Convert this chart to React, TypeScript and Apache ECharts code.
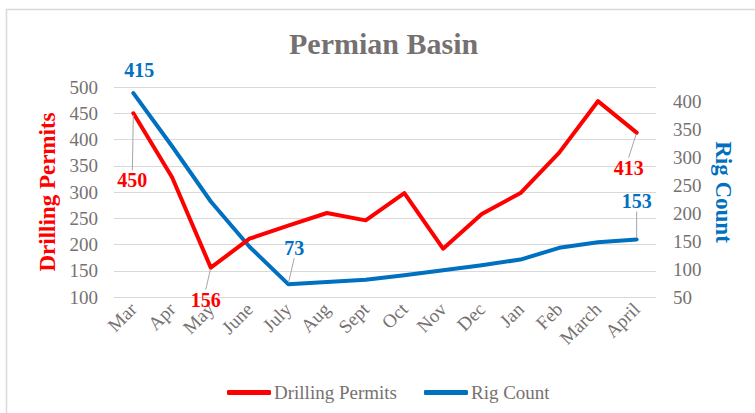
import React, { useEffect, useRef } from "react";
import * as echarts from "echarts";

const categories = ["Mar", "Apr", "May", "June", "July", "Aug", "Sept", "Oct", "Nov", "Dec", "Jan", "Feb", "March", "April"];
const drillingPermits = [450, 328, 156, 211, 236, 260, 246, 298, 192, 258, 298, 375, 473, 413];
const rigCount = [415, 320, 221, 140, 73, 77, 81, 89, 98, 107, 117, 138, 148, 153];
const leftTicks = { min: 100, max: 500, interval: 50 };
const rightTicks = { min: 50, max: 426, interval: 50 };

// label offsets (layout only) keyed by data index: [dx, dy, showLeader]
const permitLabelLayout: Record<number, [number, number, boolean]> = {
  0: [-1, 67, true],
  2: [-5, 32, true],
  13: [-8, 35, true],
};
const rigLabelLayout: Record<number, [number, number, boolean]> = {
  0: [6, -23, false],
  4: [6, -36, true],
  13: [0, -38, true],
};

const FONT = "'Liberation Serif', 'Times New Roman', serif";
const GRAY = "#767171";
const RED = "#FF0000";
const BLUE = "#0070C0";

function buildData(values: number[], layout: Record<number, [number, number, boolean]>, color: string) {
  return values.map((v, i) => {
    const l = layout[i];
    if (!l) return v;
    return {
      value: v,
      label: {
        show: true,
        position: "inside",
        color,
        fontFamily: FONT,
        fontWeight: "bold",
        fontSize: 20,
        padding: [5, 2, 5, 2],
      },
      labelLine: { show: l[2], lineStyle: { color: "#A6A6A6", width: 1 } },
    };
  });
}

export default function App() {
  const ref = useRef<HTMLDivElement>(null);
  useEffect(() => {
    if (!ref.current) return;
    const chart = echarts.init(ref.current, undefined, { renderer: "svg" });
    const option: any = {
      animation: false,
      backgroundColor: "#FFFFFF",
      title: {
        text: "Permian Basin",
        left: 289,
        top: 28,
        padding: 0,
        textStyle: { fontFamily: FONT, fontWeight: "bold", fontSize: 30, color: GRAY },
      },
      graphic: [
        {
          type: "rect",
          shape: { x: 6.5, y: 9.5, width: 800, height: 500 },
          style: { fill: "none", stroke: "#D9D9D9", lineWidth: 1.5 },
          silent: true,
        },
      ],
      legend: {
        left: 222,
        top: 378,
        itemWidth: 44,
        itemHeight: 5,
        itemGap: 27,
        textStyle: { fontFamily: FONT, fontSize: 19, color: GRAY, padding: [0, 0, 0, -2] },
        data: [
          { name: "Drilling Permits", icon: "roundRect" },
          { name: "Rig Count", icon: "roundRect" },
        ],
      },
      grid: { left: 114, right: 99, top: 87, bottom: 116 },
      xAxis: {
        type: "category",
        data: categories,
        boundaryGap: true,
        axisLine: { show: false },
        axisTick: { show: false },
        axisLabel: { rotate: 45, fontFamily: FONT, fontSize: 19, color: GRAY, margin: 9, interval: 0 },
      },
      yAxis: [
        {
          type: "value",
          position: "left",
          min: leftTicks.min,
          max: leftTicks.max,
          interval: leftTicks.interval,
          name: "Drilling Permits",
          nameLocation: "middle",
          nameRotate: 90,
          nameGap: 50,
          nameTextStyle: { fontFamily: FONT, fontWeight: "bold", fontSize: 23, color: RED },
          axisLine: { show: false },
          axisTick: { show: false },
          axisLabel: { fontFamily: FONT, fontSize: 19, color: GRAY, margin: 16 },
          splitLine: { lineStyle: { color: "#D9D9D9", width: 1 } },
        },
        {
          type: "value",
          position: "right",
          min: rightTicks.min,
          max: rightTicks.max,
          interval: rightTicks.interval,
          name: "Rig Count",
          nameLocation: "middle",
          nameRotate: -90,
          nameGap: 54,
          nameTextStyle: { fontFamily: FONT, fontWeight: "bold", fontSize: 23, color: BLUE },
          axisLine: { show: false },
          axisTick: { show: false },
          axisLabel: { fontFamily: FONT, fontSize: 19, color: GRAY, margin: 17, showMaxLabel: false },
          splitLine: { show: false },
        },
      ],
      series: [
        {
          name: "Drilling Permits",
          type: "line",
          yAxisIndex: 0,
          color: RED,
          data: buildData(drillingPermits, permitLabelLayout, RED),
          symbol: "circle",
          symbolSize: 3,
          showSymbol: true,
          itemStyle: { color: RED },
          lineStyle: { color: RED, width: 4, cap: "round", join: "round" },
          labelLayout: (p: any) => {
            const l = permitLabelLayout[p.dataIndex];
            return l ? { dx: l[0], dy: l[1] } : {};
          },
          z: 3,
        },
        {
          name: "Rig Count",
          type: "line",
          yAxisIndex: 1,
          color: BLUE,
          data: buildData(rigCount, rigLabelLayout, BLUE),
          symbol: "circle",
          symbolSize: 3,
          showSymbol: true,
          itemStyle: { color: BLUE },
          lineStyle: { color: BLUE, width: 4, cap: "round", join: "round" },
          labelLayout: (p: any) => {
            const l = rigLabelLayout[p.dataIndex];
            return l ? { dx: l[0], dy: l[1] } : {};
          },
          z: 2,
        },
      ],
    };
    chart.setOption(option);
    return () => chart.dispose();
  }, []);
  return <div ref={ref} style={{ position: "fixed", left: 0, top: 0, width: 755, height: 413 }} />;
}
